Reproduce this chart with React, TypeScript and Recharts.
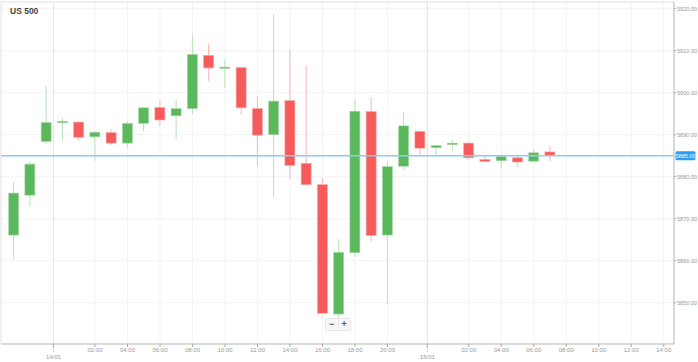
import React from "react";
import {
  ComposedChart,
  Bar,
  XAxis,
  YAxis,
  CartesianGrid,
  ReferenceLine,
} from "recharts";

// hourly candles, US 500, 14/01 - 15/01
const OPEN = [5866.1, 5875.6, 5888.4, 5893.1, 5893.0, 5889.5, 5890.5, 5888.0, 5892.7, 5896.5, 5894.5, 5896.2, 5908.9, 5906.0, 5906.0, 5896.2, 5890.0, 5898.1, 5883.2, 5878.1, 5847.3, 5861.9, 5895.5, 5866.1, 5882.5, 5890.8, 5886.9, 5887.9, 5888.0, 5884.1, 5883.8, 5884.5, 5883.7, 5885.9];
const HIGH = [5878.7, 5883.7, 5901.6, 5894.1, 5893.3, 5890.8, 5891.4, 5893.2, 5896.5, 5898.1, 5898.3, 5913.8, 5911.6, 5908.0, 5906.1, 5899.2, 5918.7, 5910.2, 5906.4, 5879.7, 5865.2, 5898.4, 5898.9, 5883.7, 5895.4, 5891.0, 5887.6, 5888.9, 5888.4, 5885.2, 5884.8, 5885.2, 5886.5, 5887.3];
const LOW = [5860.3, 5872.9, 5887.8, 5888.6, 5888.6, 5883.8, 5887.6, 5887.0, 5890.8, 5892.1, 5888.9, 5894.9, 5902.7, 5901.1, 5894.9, 5882.5, 5875.2, 5879.5, 5878.1, 5847.5, 5845.9, 5860.8, 5864.6, 5849.7, 5881.6, 5884.9, 5884.9, 5886.2, 5884.1, 5883.6, 5881.9, 5882.4, 5883.7, 5883.7];
const CLOSE = [5876.1, 5883.0, 5892.9, 5893.2, 5889.4, 5890.6, 5888.0, 5892.7, 5896.4, 5893.5, 5896.2, 5909.1, 5905.9, 5906.1, 5896.4, 5889.9, 5898.0, 5882.7, 5878.1, 5847.5, 5862.0, 5895.6, 5866.0, 5882.4, 5892.1, 5886.8, 5887.4, 5888.0, 5884.5, 5883.6, 5884.8, 5883.5, 5885.7, 5885.1];

const CURRENT_PRICE = 5885;

// x ticks in candle-index units
const X_TICKS = [2.45, 5, 7, 9, 11, 13, 15, 17, 19, 21, 23, 25.45, 28, 30, 32, 34, 36, 38, 40];
const X_LABELS = ["14/01", "02:00", "04:00", "06:00", "08:00", "10:00", "12:00", "14:00", "16:00", "18:00", "20:00", "15/01", "02:00", "04:00", "06:00", "08:00", "10:00", "12:00", "14:00"];
const DAY_TICKS = [2.45, 25.45];

const Y_TICKS = [5850, 5860, 5870, 5880, 5885, 5890, 5900, 5910, 5920];

const data = OPEN.map((o, i) => ({
  idx: i,
  open: o,
  high: HIGH[i],
  low: LOW[i],
  close: CLOSE[i],
  range: [LOW[i], HIGH[i]],
}));

const FONT = "'Liberation Sans', Arial, sans-serif";

const Candle = (props: any) => {
  const { x, y, width, height, payload } = props;
  if (!payload) return null;
  const top = Math.min(y, y + height);
  const h = Math.abs(height);
  const { open, close, high, low } = payload;
  const toY = (v: number) => top + ((high - v) / (high - low)) * h;
  const up = close >= open;
  const body = up ? "#5cb85c" : "#f55b5b";
  const wick = up ? "#b9e1b9" : "#fab4b4";
  const edge = up ? "#a6d8a6" : "#fba3a3";
  const yo = toY(open);
  const yc = toY(close);
  const by = Math.min(yo, yc);
  const bh = Math.max(Math.abs(yo - yc), 1.5);
  const cx = x + width / 2;
  return (
    <g>
      <line x1={cx} x2={cx} y1={top} y2={top + h} stroke={wick} strokeWidth={1} />
      <rect x={x} y={by} width={width} height={bh} fill={body} stroke={edge} strokeWidth={0.6} />
    </g>
  );
};

const XTick = (props: any) => {
  const { x, y, index } = props;
  const label = X_LABELS[index] ?? "";
  const isDay = label.includes("/");
  return (
    <g>
      <line x1={x} x2={x} y1={y} y2={y + 3} stroke="#aaa" />
      {isDay && (
        <line x1={x} x2={x} y1={y + 3} y2={y + 9} stroke="#bbb" strokeDasharray="1 1" />
      )}
      <text
        x={x}
        y={isDay ? y + 15 : y + 8}
        textAnchor="middle"
        fontSize={6}
        fill="#999"
        fontFamily={FONT}
      >
        {label}
      </text>
    </g>
  );
};

const YTick = (props: any) => {
  const { x, y, payload } = props;
  const v = payload.value;
  if (v === CURRENT_PRICE) {
    return (
      <g>
        <rect x={x + 1.5} y={y - 4.5} width={20} height={9} rx={1.5} fill="#2b9ef2" />
        <text x={x + 11.5} y={y + 2} textAnchor="middle" fontSize={5.4} fill="#fff" fontFamily={FONT}>
          {v.toFixed(2)}
        </text>
      </g>
    );
  }
  return (
    <g>
      <line x1={x} x2={x + 2} y1={y} y2={y} stroke="#aaa" />
      <text x={x + 3} y={y + 2} fontSize={5.6} fill="#999" fontFamily={FONT}>
        {v.toFixed(2)}
      </text>
    </g>
  );
};

export default function App() {
  return (
    <div style={{ position: "absolute", left: 0, top: 0, width: 698, height: 362, background: "#fff" }}>
      <ComposedChart
        width={698}
        height={362}
        data={data}
        margin={{ top: 2, right: 0, bottom: 0, left: 1 }}
      >
        <CartesianGrid stroke="#f3f3f3" strokeWidth={1} />
        <XAxis
          dataKey="idx"
          type="number"
          domain={[-0.785, 40.63]}
          allowDataOverflow
          ticks={X_TICKS}
          interval={0}
          height={18}
          tickSize={0}
          tickMargin={0}
          axisLine={{ stroke: "#bbb" }}
          tickLine={false}
          tick={<XTick />}
        />
        <YAxis
          orientation="right"
          type="number"
          domain={[5840.17, 5921.6]}
          allowDataOverflow
          ticks={Y_TICKS}
          interval={0}
          width={24}
          tickSize={0}
          tickMargin={0}
          axisLine={{ stroke: "#bbb" }}
          tickLine={false}
          tick={<YTick />}
        />
        {DAY_TICKS.map((d) => (
          <ReferenceLine key={d} x={d} stroke="#e4e4e4" />
        ))}
        <ReferenceLine y={5921.6} stroke="#e6e6e6" />
        <ReferenceLine x={-0.785} stroke="#e6e6e6" />
        <Bar
          dataKey="range"
          barSize={10}
          shape={<Candle />}
          isAnimationActive={false}
        />
        <ReferenceLine y={CURRENT_PRICE} stroke="#8ccbf5" strokeWidth={1.5} />
      </ComposedChart>
      <div
        style={{
          position: "absolute",
          left: 10,
          top: 6,
          fontFamily: FONT,
          fontWeight: "bold",
          fontSize: 8.5,
          color: "#444",
        }}
      >
        US 500
      </div>
      <div
        style={{
          position: "absolute",
          left: 325,
          top: 318,
          width: 24,
          height: 11,
          background: "#f7f7f7",
          border: "1px solid #e6e6e6",
          borderRadius: 2,
          display: "flex",
          fontFamily: FONT,
          fontSize: 9,
          fontWeight: "bold",
          color: "#555",
          lineHeight: "11px",
        }}
      >
        <span style={{ flex: 1, textAlign: "center" }}>−</span>
        <span style={{ flex: 1, textAlign: "center", borderLeft: "1px solid #e6e6e6" }}>+</span>
      </div>
    </div>
  );
}
